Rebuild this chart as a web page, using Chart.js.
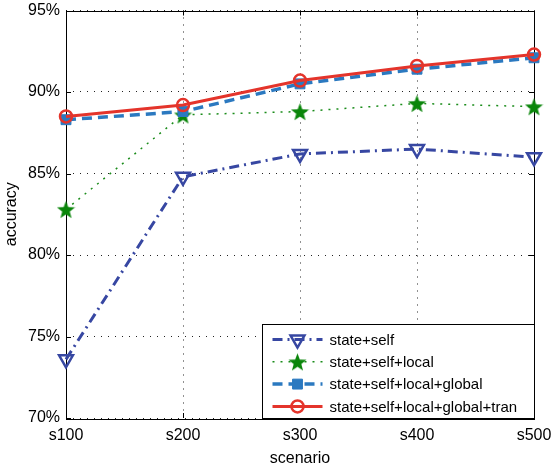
<!DOCTYPE html>
<html>
<head>
<meta charset="UTF-8">
<title>accuracy vs scenario</title>
<script src="https://cdn.jsdelivr.net/npm/chart.js"></script>
<style>
  body { margin: 0; background: #fff; }
  canvas { display: block; }
</style>
</head>
<body>
<canvas id="chart" width="553" height="468"></canvas>
<script>
// values (accuracy in %)
const scenarios = ['s100', 's200', 's300', 's400', 's500'];
const stateSelf = [73.6, 84.8, 86.2, 86.5, 86.0];
const stateSelfLocal = [82.8, 88.6, 88.8, 89.3, 89.1];
const stateSelfLocalGlobal = [88.3, 88.8, 90.5, 91.4, 92.1];
const stateSelfLocalGlobalTran = [88.5, 89.2, 90.7, 91.6, 92.3];
const seriesNames = ['state+self', 'state+self+local', 'state+self+local+global', 'state+self+local+global+tran'];
const yMin = 70, yMax = 95, yStep = 5;

const FONT = "'Liberation Sans', Arial, Helvetica, sans-serif";

// filled five point star for the green series
function makeStar(size, color) {
    const c = document.createElement('canvas');
    c.width = size; c.height = size;
    const g = c.getContext('2d');
    const cx = size / 2, cy = size / 2 + 1, R = size / 2, r = R * 0.42;
    g.beginPath();
    for (let i = 0; i < 10; i++) {
        const a = -Math.PI / 2 + i * Math.PI / 5;
        const rr = i % 2 ? r : R;
        g.lineTo(cx + rr * Math.cos(a), cy + rr * Math.sin(a));
    }
    g.closePath();
    g.fillStyle = color;
    g.fill();
    return c;
}
const star = makeStar(19, '#0b860b');

const datasets = [
    {
        label: seriesNames[0], data: stateSelf,
        borderColor: '#3747a2', borderWidth: 3, borderDash: [10, 5, 2, 5],
        pointStyle: 'triangle', rotation: 180, pointRadius: 8, pointBorderWidth: 2.5,
        pointBorderColor: '#3747a2', pointBackgroundColor: 'rgba(0,0,0,0)', order: 3
    },
    {
        label: seriesNames[1], data: stateSelfLocal,
        borderColor: '#1a8c1a', borderWidth: 1.5, borderDash: [2, 6],
        pointStyle: star, pointRadius: 9, order: 2
    },
    {
        label: seriesNames[2], data: stateSelfLocalGlobal,
        borderColor: '#2b79c0', borderWidth: 3.5, borderDash: [10, 6],
        pointStyle: 'rect', pointRadius: 7, pointBorderWidth: 1,
        pointBorderColor: '#2b79c0', pointBackgroundColor: '#2b79c0', order: 1
    },
    {
        label: seriesNames[3], data: stateSelfLocalGlobalTran,
        borderColor: '#e4342b', borderWidth: 3, borderDash: [],
        pointStyle: 'circle', pointRadius: 6, pointBorderWidth: 2.5,
        pointBorderColor: '#e4342b', pointBackgroundColor: 'rgba(0,0,0,0)', order: 0
    }
];
datasets.forEach(d => { d.fill = false; d.tension = 0; d.borderCapStyle = 'butt'; });

// axes box with inward ticks, like the original figure
const frame = {
    id: 'frame',
    beforeDatasetsDraw(chart) {
        const { ctx, chartArea: a, scales } = chart;
        ctx.save();
        ctx.strokeStyle = '#000';
        ctx.lineWidth = 1;
        ctx.setLineDash([]);
        ctx.beginPath();
        scales.y.ticks.forEach((t, i) => {
            const y = Math.round(scales.y.getPixelForTick(i)) + 0.5;
            ctx.moveTo(a.left, y); ctx.lineTo(a.left + 5, y);
            ctx.moveTo(a.right, y); ctx.lineTo(a.right - 5, y);
        });
        scales.x.ticks.forEach((t, i) => {
            const x = Math.round(scales.x.getPixelForTick(i)) + 0.5;
            ctx.moveTo(x, a.bottom); ctx.lineTo(x, a.bottom - 5);
            ctx.moveTo(x, a.top); ctx.lineTo(x, a.top + 5);
        });
        ctx.stroke();
        ctx.strokeRect(Math.round(a.left) + 0.5, Math.round(a.top) + 0.5,
            Math.round(a.right - a.left), Math.round(a.bottom - a.top));
        ctx.restore();
    }
};

// boxed legend in the lower right corner of the axes
const boxLegend = {
    id: 'boxLegend',
    afterDraw(chart) {
        const { ctx, chartArea: a } = chart;
        const w = 272, h = 94;
        const x0 = Math.round(a.right - w) + 0.5, y0 = Math.round(a.bottom - h) + 0.5;
        ctx.save();
        ctx.fillStyle = '#fff';
        ctx.fillRect(x0, y0, w, h);
        ctx.strokeStyle = '#000';
        ctx.lineWidth = 1;
        ctx.setLineDash([]);
        ctx.strokeRect(x0, y0, w, h);
        chart.data.datasets.forEach((d, i) => {
            const y = y0 + 15 + i * 22.3;
            ctx.strokeStyle = d.borderColor;
            ctx.lineWidth = d.borderWidth;
            ctx.lineCap = 'butt';
            ctx.setLineDash(d.borderDash);
            ctx.beginPath();
            ctx.moveTo(x0 + 10, y); ctx.lineTo(x0 + 60, y);
            ctx.stroke();
            ctx.setLineDash([]);
            ctx.fillStyle = d.pointBackgroundColor || d.borderColor;
            ctx.strokeStyle = d.pointBorderColor || d.borderColor;
            ctx.lineWidth = d.pointBorderWidth || 1;
            Chart.helpers.drawPoint(ctx, {
                pointStyle: d.pointStyle, rotation: d.rotation || 0,
                radius: d.pointRadius, borderWidth: d.pointBorderWidth || 0
            }, x0 + 35, y);
            ctx.fillStyle = '#000';
            ctx.font = '15px ' + FONT;
            ctx.textBaseline = 'middle';
            ctx.textAlign = 'left';
            ctx.fillText(d.label, x0 + 67, y + 1);
        });
        ctx.restore();
    }
};

const gridStyle = {
    color: '#222', lineWidth: 1, drawTicks: false
};

new Chart(document.getElementById('chart'), {
    type: 'line',
    data: { labels: scenarios, datasets: datasets },
    options: {
        responsive: false,
        animation: false,
        layout: { padding: { top: 7, right: 19, left: 0, bottom: 0 } },
        plugins: { legend: { display: false }, tooltip: { enabled: false } },
        scales: {
            x: {
                type: 'category',
                offset: false,
                grid: Object.assign({ offset: false }, gridStyle),
                border: { display: false, dash: [1, 6] },
                ticks: { color: '#000', padding: 8, font: { family: FONT, size: 16 }, maxRotation: 0, autoSkip: false },
                title: { display: true, text: 'scenario', color: '#000', font: { family: FONT, size: 16 }, padding: { top: 4, bottom: 0 } },
                afterFit(scale) { scale.height = 50; scale.paddingLeft = 0; scale.paddingRight = 0; }
            },
            y: {
                min: yMin, max: yMax,
                grid: gridStyle,
                border: { display: false, dash: [1, 6] },
                ticks: { stepSize: yStep, color: '#000', padding: 6, font: { family: FONT, size: 16 }, callback: v => v + '%' },
                title: { display: true, text: 'accuracy', color: '#000', font: { family: FONT, size: 16 }, padding: { top: 2, bottom: 0 } },
                afterFit(scale) { scale.width = 66; scale.paddingTop = 0; scale.paddingBottom = 0; }
            }
        }
    },
    plugins: [frame, boxLegend]
});
</script>
</body>
</html>
